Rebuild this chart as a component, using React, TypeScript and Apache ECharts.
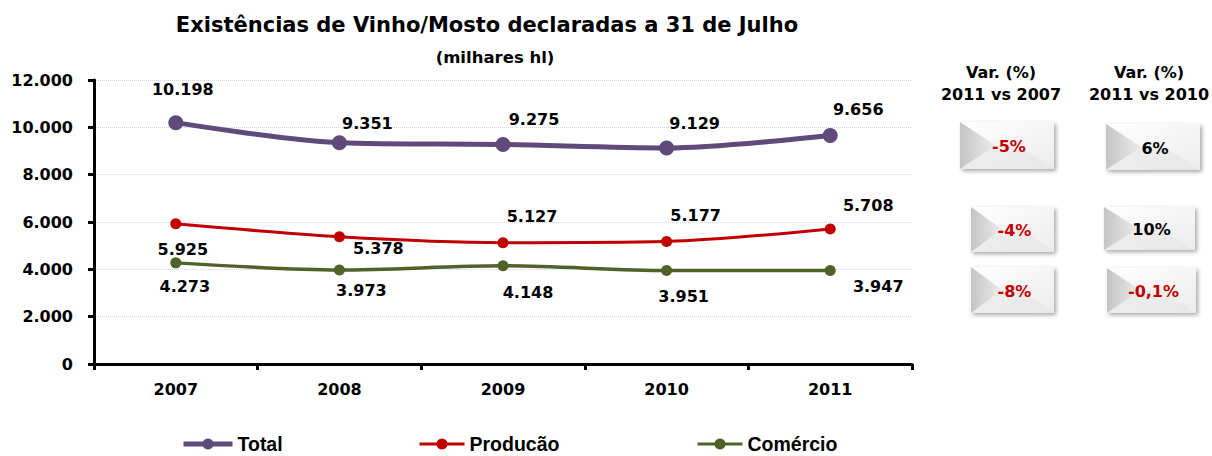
import React, { useEffect, useRef } from "react";
import * as echarts from "echarts";

const years = ["2007", "2008", "2009", "2010", "2011"];
const total = [10198, 9351, 9275, 9129, 9656];
const producao = [5925, 5378, 5127, 5177, 5708];
const comercio = [4273, 3973, 4148, 3951, 3947];
const yTicks = { min: 0, max: 12000, interval: 2000 };

const varHeaders = ["2011 vs 2007", "2011 vs 2010"];
const varVs2007 = ["-5%", "-4%", "-8%"];
const varVs2010 = ["6%", "10%", "-0,1%"];

// label offsets (px, relative to point)
const totalLabelOffsets = [[7, -33], [28, -19], [31, -25], [28, -24], [28, -26]];
const prodLabelOffsets = [[7, 26], [39, 12], [29, -26], [29, -26], [38, -23]];
const comLabelOffsets = [[9, 24], [22, 21], [25, 27], [17, 26], [48, 16]];

const fmt = (v: number) => String(v).replace(/\B(?=(\d{3})+(?!\d))/g, ".");

const LABEL_FONT = "DejaVu Sans";

function withLabels(values: number[], offsets: number[][]) {
  return values.map((v, i) => ({
    value: v,
    label: { offset: offsets[i] },
  }));
}

// boxes: [x, y, w, h] for column 1 and column 2, per row
const boxCol1 = [[960, 122, 94, 47], [971, 207, 83, 45], [971, 267, 83, 46]];
const boxCol2 = [[1106, 124, 94, 46], [1104, 207, 91, 43], [1107, 268, 89, 45]];

function makeBox(b: number[], txt: string) {
  const [x, y, w, h] = b;
  const neg = txt.trim().startsWith("-");
  return {
    type: "group",
    children: [
      {
        type: "rect",
        shape: { x, y, width: w, height: h },
        style: {
          fill: new echarts.graphic.LinearGradient(0, 0, 1, 1, [
            { offset: 0, color: "#FFFFFF" },
            { offset: 1, color: "#ECECEC" },
          ]),
          shadowBlur: 4,
          shadowColor: "rgba(0,0,0,0.35)",
          shadowOffsetX: 2,
          shadowOffsetY: 2,
        },
      },
      {
        type: "polygon",
        shape: { points: [[x, y], [x + w * 0.38, y + h / 2], [x, y + h]] },
        style: {
          fill: new echarts.graphic.LinearGradient(0, 0, 1, 0, [
            { offset: 0, color: "#C4C4C4" },
            { offset: 1, color: "#EDEDED" },
          ]),
        },
      },
      {
        type: "polygon",
        shape: { points: [[x, y + h], [x + w * 0.38, y + h / 2], [x + w * 0.62, y + h / 2], [x + w, y + h]] },
        style: { fill: "rgba(230,230,230,0.6)" },
      },
      {
        type: "text",
        x: x + w / 2 + 2,
        y: y + h / 2 + 1,
        style: {
          text: txt,
          fill: neg ? "#C00000" : "#000000",
          font: `bold 16px '${LABEL_FONT}'`,
          align: "center",
          verticalAlign: "middle",
        },
      },
    ],
  };
}

export default function App() {
  const ref = useRef<HTMLDivElement>(null);
  useEffect(() => {
    document.body.style.margin = "0";
    if (!ref.current) return;
    const chart = echarts.init(ref.current, null, { renderer: "svg" });
    const labelCommon = {
      show: true,
      position: "inside",
      formatter: (p: any) => fmt(p.value),
      color: "#000",
      fontFamily: LABEL_FONT,
      fontWeight: "bold",
      fontSize: 16,
    };
    const legendCommon = {
      orient: "horizontal",
      itemHeight: 14,
      itemGap: 3,
      padding: 0,
      top: 434,
      textStyle: {
        fontFamily: "Liberation Sans",
        fontWeight: "bold",
        fontSize: 19.5,
        lineHeight: 20,
        color: "#000",
      },
    };
    const graphics: any[] = [
      {
        type: "text",
        x: 487,
        y: 25,
        style: {
          text: "Existências de Vinho/Mosto declaradas a 31 de Julho",
          font: `bold 21px '${LABEL_FONT}'`,
          fill: "#000",
          align: "center",
          verticalAlign: "middle",
        },
      },
      {
        type: "text",
        x: 495,
        y: 57,
        style: {
          text: "(milhares hl)",
          font: `bold 16.5px '${LABEL_FONT}'`,
          fill: "#000",
          align: "center",
          verticalAlign: "middle",
        },
      },
    ];
    const headerX = [1001, 1149];
    varHeaders.forEach((h, i) => {
      graphics.push({
        type: "text",
        x: headerX[i],
        y: 72,
        style: { text: "Var. (%)", font: `bold 16px '${LABEL_FONT}'`, fill: "#000", align: "center", verticalAlign: "middle" },
      });
      graphics.push({
        type: "text",
        x: headerX[i],
        y: 94,
        style: { text: h, font: `bold 16px '${LABEL_FONT}'`, fill: "#000", align: "center", verticalAlign: "middle" },
      });
    });
    varVs2007.forEach((t, i) => graphics.push(makeBox(boxCol1[i], t)));
    varVs2010.forEach((t, i) => graphics.push(makeBox(boxCol2[i], t)));

    chart.setOption({
      animation: false,
      backgroundColor: "#FFFFFF",
      grid: { left: 94, right: 300, top: 80, bottom: 92, containLabel: false },
      legend: [
        { ...legendCommon, left: 181, itemWidth: 49, lineStyle: { width: 5 }, data: ["Total"] },
        { ...legendCommon, left: 418, itemWidth: 45, lineStyle: { width: 3 }, data: ["Producão"] },
        { ...legendCommon, left: 696, itemWidth: 45, lineStyle: { width: 3 }, data: ["Comércio"] },
      ],
      xAxis: {
        type: "category",
        data: years,
        boundaryGap: true,
        axisLine: { lineStyle: { color: "#000", width: 3 } },
        axisTick: { show: true, interval: 0, length: 6, lineStyle: { color: "#000", width: 3 } },
        axisLabel: {
          color: "#000",
          fontFamily: LABEL_FONT,
          fontWeight: "bold",
          fontSize: 16,
          margin: 17,
        },
      },
      yAxis: {
        type: "value",
        min: yTicks.min,
        max: yTicks.max,
        interval: yTicks.interval,
        axisLine: { show: true, lineStyle: { color: "#000", width: 3 } },
        axisTick: { show: true, length: 6, lineStyle: { color: "#000", width: 3 } },
        axisLabel: {
          color: "#000",
          fontFamily: LABEL_FONT,
          fontWeight: "bold",
          fontSize: 16,
          margin: 21,
          formatter: (v: number) => fmt(v),
        },
        splitLine: { show: true, lineStyle: { color: "#CFCFF7", type: "dotted", width: 1 } },
      },
      series: [
        {
          name: "Total",
          type: "line",
          smooth: 0.3,
          data: withLabels(total, totalLabelOffsets),
          symbol: "circle",
          symbolSize: 15,
          lineStyle: { color: "#604A7B", width: 5 },
          itemStyle: { color: "#604A7B" },
          label: labelCommon,
        },
        {
          name: "Producão",
          type: "line",
          smooth: 0.3,
          data: withLabels(producao, prodLabelOffsets),
          symbol: "circle",
          symbolSize: 11,
          lineStyle: { color: "#C00000", width: 3 },
          itemStyle: { color: "#C00000" },
          label: labelCommon,
        },
        {
          name: "Comércio",
          type: "line",
          smooth: 0.3,
          data: withLabels(comercio, comLabelOffsets),
          symbol: "circle",
          symbolSize: 11,
          lineStyle: { color: "#4F6228", width: 3.5 },
          itemStyle: { color: "#4F6228" },
          label: labelCommon,
        },
      ],
      graphic: graphics,
    });
    return () => chart.dispose();
  }, []);
  return <div ref={ref} style={{ width: 1212, height: 456 }} />;
}
